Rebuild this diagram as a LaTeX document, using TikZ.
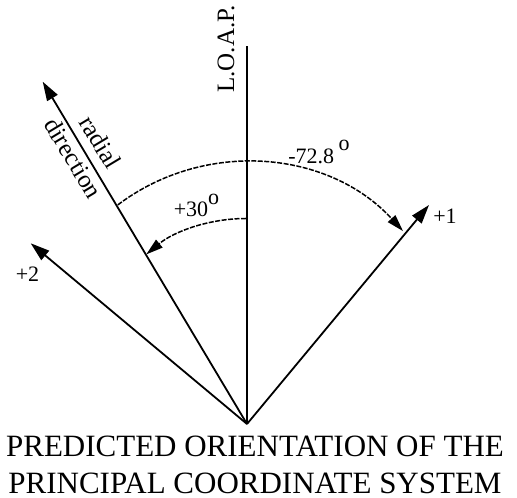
\documentclass[tikz,border=0pt]{standalone}
\usepackage{fontspec}
\setmainfont{Liberation Serif}
\usetikzlibrary{arrows.meta, calc}
\tikzset{
  axisline/.style={line width=1.8pt, -{Triangle[length=19pt,width=12pt]}},
  arcline/.style={line width=1.5pt, dash pattern=on 5pt off 1.5pt, -{Triangle[length=17pt,width=10pt]}},
  lbl/.style={font=\fontsize{22}{25}\selectfont, inner sep=0pt},
}
\begin{document}
\begin{tikzpicture}[x=1pt,y=1pt]
  \useasboundingbox (0,0) rectangle (517,498);
  % origin, axis ends and arc centre
  \coordinate (O) at (247,74);
  \coordinate (loap) at (247,451.5);
  \coordinate (rad) at (42.7,416.3);
  \coordinate (one) at (429,293);
  \coordinate (two) at (30.7,254.7);
  \coordinate (ctr) at (246,123);

  % axes
  \draw[line width=1.8pt] (O) -- (loap);
  \draw[axisline] (O) -- (rad);
  \draw[axisline] (O) -- (one);
  \draw[axisline] (O) -- (two);

  % angle arcs
  \draw[arcline] ($(ctr)+(127:213)$) arc[start angle=127, end angle=42.5, radius=213];
  \draw[arcline] ($(ctr)+(90:156.5)$) arc[start angle=90, end angle=129.6, radius=156.5];

  % labels
  \node[lbl] (lone) at (445,282) {+1};
  \node[lbl] (ltwo) at (27.5,224) {+2};
  \node[lbl, anchor=base] (lbig) at (319,334.7) {-72.8\hspace{0.2em}\raisebox{0.6em}{o}};
  \node[lbl, anchor=base] (lsmall) at (196.5,281.3) {+30\raisebox{0.55em}{o}};
  \node[font=\fontsize{25}{25}\selectfont, rotate=90, inner sep=0pt] (lloap) at (226,449) {L.O.A.P.};
  \node[font=\fontsize{25}{31}\selectfont, rotate=-59, align=center, inner sep=0pt] (lrad) at (87,348) {radial\\direction};

  % title
  \node[font=\fontsize{31}{36.6}\selectfont, align=center, inner sep=0pt, anchor=base] (title) at (255,4.7)
    {PREDICTED ORIENTATION OF THE\\PRINCIPAL COORDINATE SYSTEM};
\end{tikzpicture}
\end{document}
